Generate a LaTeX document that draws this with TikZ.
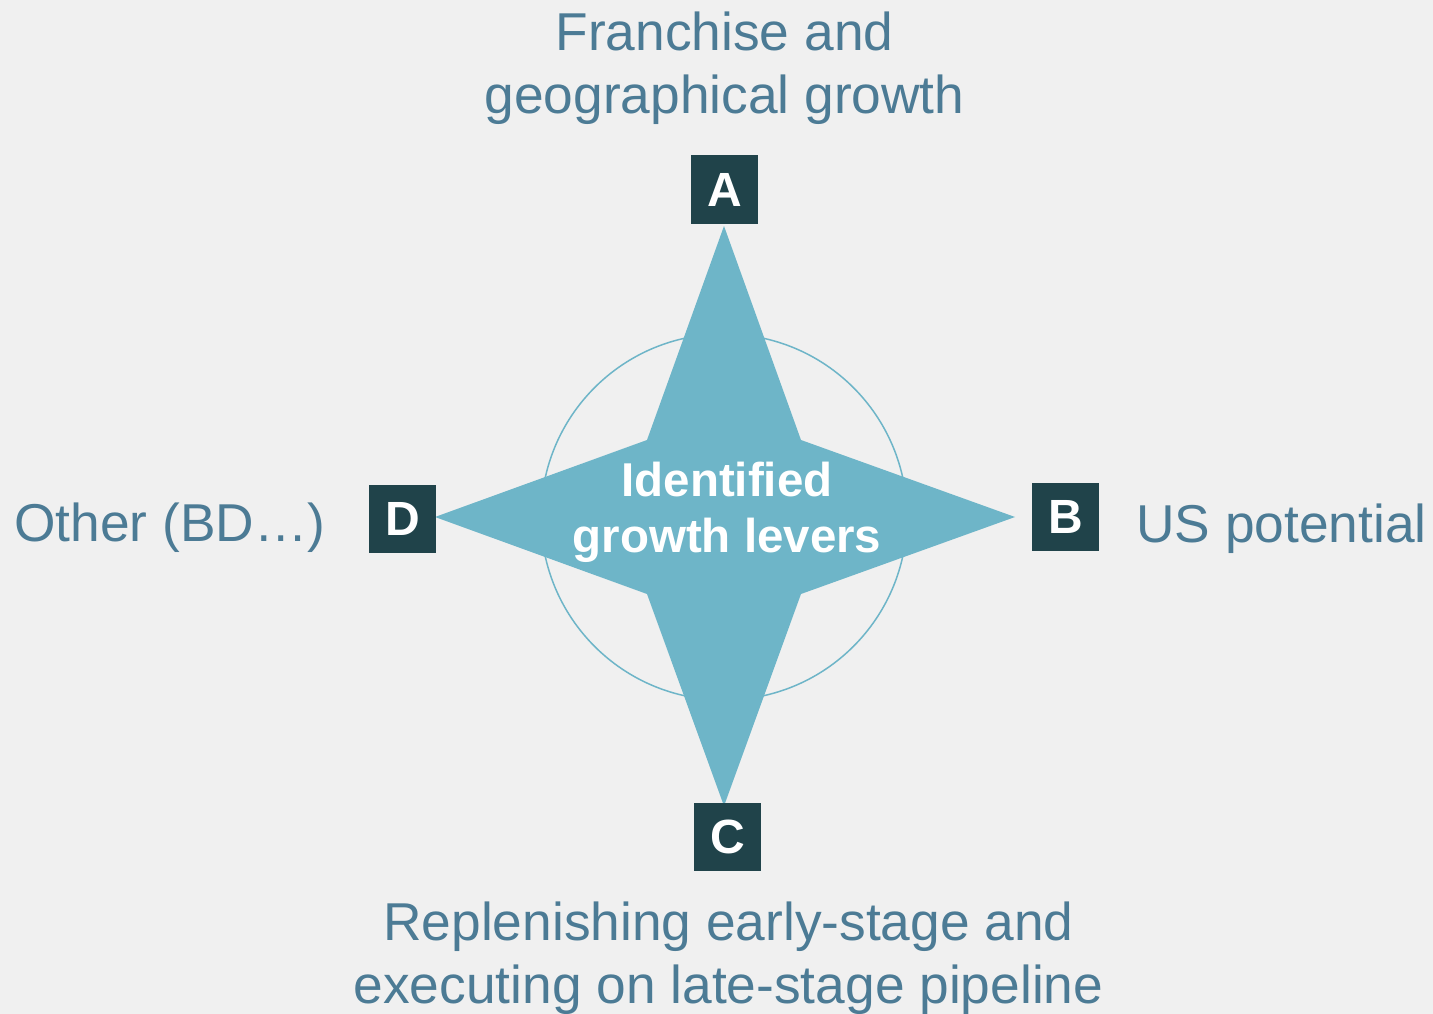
\documentclass[tikz,border=0pt]{standalone}
\usepackage{fontspec}
\setmainfont{Liberation Sans}
\usepackage{xcolor}
\usetikzlibrary{positioning}

\definecolor{bgcol}{HTML}{F0F0F0}
\definecolor{starcol}{HTML}{6EB5C8}
\definecolor{boxcol}{HTML}{20434A}
\definecolor{levercol}{HTML}{4C7B95}

\begin{document}
\begin{tikzpicture}[x=1pt, y=-1pt,
    letterbox/.style={rectangle, fill=boxcol, text=white, minimum width=67pt, minimum height=68pt, inner sep=0pt, font=\fontsize{48}{48}\selectfont\bfseries},
    lever/.style={text=levercol, inner sep=0pt, align=center, font=\fontsize{53.3}{63}\selectfont}
]
\fill[bgcol] (0,0) rectangle (1433,1014);
\useasboundingbox (0,0) rectangle (1433,1014);

% star and ring
\coordinate (hub) at (724,517);
\draw[starcol, line width=1.5pt] (hub) circle[radius=183];
\fill[starcol] (724,226) -- (801,440) -- (1015,517) -- (801,594) -- (724,806)
    -- (647,594) -- (435,517) -- (647,440) -- cycle;
\node[text=white, inner sep=0pt, align=center, font=\fontsize{47.5}{56}\selectfont\bfseries] (core) at (727,512) {Identified\\growth levers};

% letter boxes
\node[letterbox] (A) at (724.5,189.5) {A};
\node[letterbox] (B) at (1065.5,516.5) {B};
\node[letterbox] (C) at (727.5,837) {C};
\node[letterbox] (D) at (402.5,519) {D};

% lever texts
\node[lever] (franchise) at (724.5,68) {Franchise and\\geographical growth};
\node[lever, anchor=base west] (us) at (1136,542) {US potential};
\node[lever] (pipeline) at (728.5,958) {Replenishing early-stage and\\executing on late-stage pipeline};
\node[lever, anchor=base west] (other) at (14,541) {Other (BD…)};
\end{tikzpicture}
\end{document}
